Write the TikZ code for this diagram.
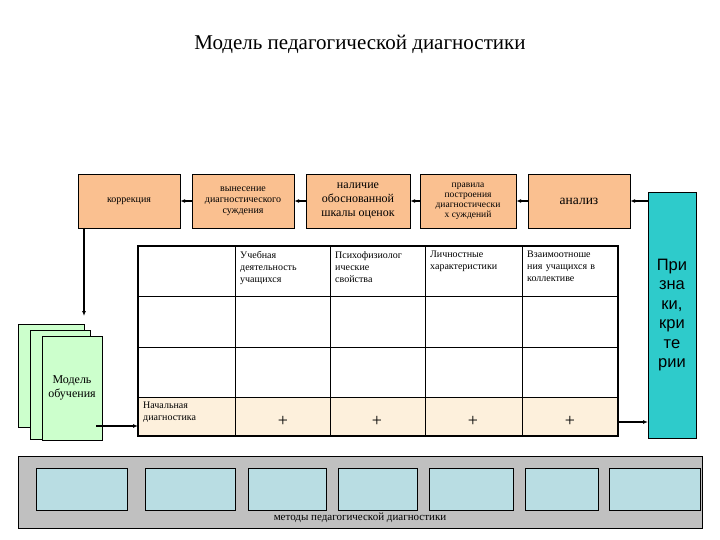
\documentclass[tikz,border=0pt]{standalone}
\usepackage{fontspec}
\setmainfont{Liberation Serif}
\newfontfamily\sansf{Liberation Sans}
\usetikzlibrary{arrows.meta}
\definecolor{org}{HTML}{FAC090}
\definecolor{grn}{HTML}{CCFFCC}
\definecolor{tea}{HTML}{2ECBCB}
\definecolor{lbl}{HTML}{B9DDE3}
\definecolor{gry}{HTML}{C0C0C0}
\definecolor{bei}{HTML}{FDF0DC}
\tikzset{
 topbox/.style={draw,fill=org,minimum width=#1,minimum height=54pt,align=center,font=\fontsize{10}{11}\selectfont,inner sep=1pt},
 arr/.style={-{Latex[length=5pt,width=4pt]},line width=1.2pt},
 mbox/.style={draw,fill=lbl,line width=0.8pt},
 cell/.style={font=\fontsize{10}{12}\selectfont,align=left,anchor=north west,text width=92pt,inner sep=2pt}
}
\begin{document}
\begin{tikzpicture}[x=1pt,y=-1pt]
\useasboundingbox (0,0) rectangle (720,540);
\node (title) at (360,44) {\fontsize{21}{24}\selectfont Модель педагогической диагностики};
\node[topbox=102pt] (korr) at (129,201) {коррекция};
\node[topbox=102pt] (vyn) at (243,201) {вынесение\\диагностического\\суждения};
\node[topbox=104pt,font=\fontsize{12}{14}\selectfont] (nal) at (358,201) {наличие\\обоснованной\\шкалы оценок};
\node[topbox=96pt,font=\fontsize{9.5}{10}\selectfont] (prav) at (468,201) {правила\\построения\\диагностически\\х суждений};
\node[topbox=102pt,font=\fontsize{13.5}{14}\selectfont] (anal) at (579,201) {анализ};
\node[draw,fill=tea,minimum width=48pt,minimum height=246pt,font=\sansf\fontsize{16.5}{19.5}\selectfont,align=center] (pr) at (672,315) {При\\зна\\ки,\\кри\\те\\рии};
% table
\fill[bei] (138,397) rectangle (618,436);
\foreach \x in {235,330,425,522} \draw[line width=0.8pt] (\x,246) -- (\x,436);
\foreach \y in {296,347,397} \draw[line width=0.8pt] (138,\y) -- (618,\y);
\draw[line width=1.5pt] (138,246) rectangle (618,436);
\node[draw=none,minimum width=480pt,minimum height=190pt] (tab) at (378,341) {};
\node[cell] (c1) at (238,249) {Учебная\\деятельность\\учащихся};
\node[cell] (c2) at (333,249) {Психофизиолог\\ические\\свойства};
\node[cell] (c3) at (428,249) {Личностные\\характеристики};
\node[cell] (c4) at (525,249) {Взаимоотноше\\ния учащихся в\\коллективе};
\node[cell] (nd) at (141,400) {Начальная\\диагностика};
\foreach \x/\n in {283/p1,377/p2,473/p3,570/p4} \node[font=\fontsize{18}{18}\selectfont] (\n) at (\x,421) {+};
% model stack
\draw[fill=grn] (18,324) rectangle (84,427);
\draw[fill=grn] (30,330) rectangle (90,439);
\node[draw,fill=grn,minimum width=60pt,minimum height=104pt,inner sep=0pt,align=center,font=\fontsize{12}{14}\selectfont] (mod) at (72,388) {Модель\\обучения};
\coordinate (mtop) at (84,316);
\coordinate (mr) at (96,426);
\coordinate (tl) at (138,426);
\coordinate (tr) at (618,422);
\coordinate (prl) at (648,422);
\coordinate (korrb) at (84,228);
% arrows
\draw[arr] (korrb) -- (mtop);
\draw[arr] (mr) -- (tl);
\draw[arr] (tr) -- (prl);
\draw[arr] (pr.north west |- anal.east) -- (anal.east);
\draw[arr] (anal.west) -- (prav.east);
\draw[arr] (prav.west) -- (nal.east);
\draw[arr] (nal.west) -- (vyn.east);
\draw[arr] (vyn.west) -- (korr.east);
% methods
\node[draw,fill=gry,minimum width=684pt,minimum height=72pt] (meth) at (360,492) {};
\foreach \a/\b [count=\i] in {36/127,145/235,248/326,338/417,429/513,525/598,609/700}
  \draw[mbox] (\a,468) rectangle (\b,510);
\node[font=\fontsize{11}{12}\selectfont] (mlab) at (360,518) {методы педагогической диагностики};
\end{tikzpicture}
\end{document}
